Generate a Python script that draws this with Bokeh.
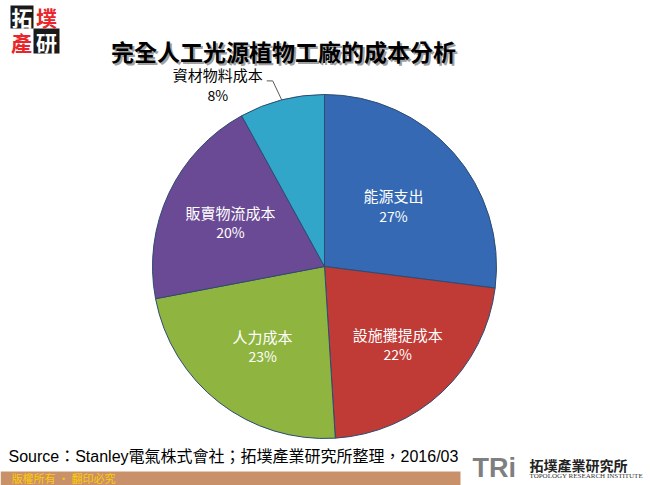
import numpy as np
from bokeh.plotting import figure
from bokeh.models import Range1d, ColumnDataSource
from bokeh.core.properties import value
from bokeh.embed import file_html
from bokeh.resources import INLINE

# ---- data ----
categories = ["能源支出", "設施攤提成本", "人力成本", "販賣物流成本", "資材物料成本"]
shares = [27, 22, 23, 20, 8]
pct_labels = ["27%", "22%", "23%", "20%", "8%"]
colors = ["#3569b3", "#c03a36", "#8fb540", "#6b4a95", "#31a6c8"]
title_text = "完全人工光源植物工廠的成本分析"
source_text = "Source：Stanley電氣株式會社；拓墣產業研究所整理，2016/03"
footer_text = "版權所有 • 翻印必究"

# label placement (layout, pixels from centre)
label_radius = [92, 107, 101, 104]

W, H = 650, 485
CJK = value("'Noto Sans CJK TC', 'Noto Sans', sans-serif")
ARIAL_CJK = value("'Liberation Sans', 'Noto Sans CJK TC', sans-serif")

p = figure(width=W, height=H, x_range=Range1d(0, W), y_range=Range1d(0, H),
           output_backend="svg", toolbar_location=None, min_border=0,
           background_fill_color="white", border_fill_color="white")
p.axis.visible = False
p.grid.visible = False
p.outline_line_color = None

def Y(ypx):
    return H - ypx

# ---- pie ----
cx, cy, R = 324, Y(266), 172
vals = np.array(shares, dtype=float)
frac = vals / vals.sum()
cum = np.concatenate([[0], np.cumsum(frac)])
start = np.pi / 2 - 2 * np.pi * cum[:-1]
end = np.pi / 2 - 2 * np.pi * cum[1:]
mid = (start + end) / 2

src = ColumnDataSource(dict(start=start, end=end, color=colors,
                            x=[cx] * len(shares), y=[cy] * len(shares)))
p.wedge(x="x", y="y", radius=R, start_angle="start", end_angle="end",
        direction="clock", fill_color="color", line_color="#2d4b72",
        line_width=1, source=src)

# inside labels
for i in range(4):
    lx = cx + label_radius[i] * np.cos(mid[i])
    ly = cy + label_radius[i] * np.sin(mid[i])
    p.text(x=[lx], y=[ly + 10], text=[categories[i]], text_color="white",
           text_font=CJK, text_font_size="15px", text_align="center",
           text_baseline="middle")
    p.text(x=[lx], y=[ly - 10], text=[pct_labels[i]], text_color="white",
           text_font=CJK, text_font_size="14px", text_align="center",
           text_baseline="middle")

# outside label with leader line for the small slice
ex = cx + R * np.cos(mid[4])
ey = cy + R * np.sin(mid[4])
kx, ky = ex - 9, ey + 19
p.line(x=[ex, kx, kx - 6], y=[ey, ky, ky], line_color="#595959", line_width=1)
tx, ty = kx - 55, ky + 6
p.text(x=[tx], y=[ty], text=[categories[4]], text_color="black",
       text_font=CJK, text_font_size="15px", text_align="center",
       text_baseline="middle")
p.text(x=[tx], y=[ty - 20], text=[pct_labels[4]], text_color="black",
       text_font=CJK, text_font_size="14px", text_align="center",
       text_baseline="middle")

# ---- title with shadow ----
p.text(x=[285], y=[Y(52)], text=[title_text], text_color="#a0a0a0",
       text_font=CJK, text_font_size="23px", text_font_style="bold",
       text_align="center", text_baseline="middle")
p.text(x=[283], y=[Y(50)], text=[title_text], text_color="black",
       text_font=CJK, text_font_size="23px", text_font_style="bold",
       text_align="center", text_baseline="middle")

# ---- top-left logo ----
p.quad(left=[10, 33], right=[33, 59], top=[Y(5), Y(28)], bottom=[Y(28), Y(53)],
       fill_color="#1a1a1a", line_color=None)
for ch, x0, y0, c in [("拓", 21.5, 16.5, "white"), ("墣", 46, 16, "#e8262b"),
                      ("產", 21, 41, "#e8262b"), ("研", 46, 41, "white")]:
    p.text(x=[x0], y=[Y(y0)], text=[ch], text_color=c, text_font=CJK,
           text_font_size="21px", text_font_style="bold", text_align="center",
           text_baseline="middle")

# ---- source ----
p.text(x=[8], y=[Y(456)], text=[source_text], text_color="black",
       text_font=ARIAL_CJK, text_font_size="16px", text_align="left",
       text_baseline="middle")

# ---- footer bar ----
p.quad(left=[0], right=[460], top=[Y(471)], bottom=[Y(485)],
       fill_color="#c9916a", line_color=None)
p.text(x=[11], y=[Y(477)], text=[footer_text], text_color="#ffcc00",
       text_font=CJK, text_font_size="11px", text_align="left",
       text_baseline="middle")

# ---- bottom-right logo ----
p.text(x=[472], y=[Y(467)], text=["TRi"], text_color="#7f7f7f",
       text_font=value("Liberation Sans"), text_font_size="27px",
       text_font_style="bold", text_align="left", text_baseline="middle")
p.text(x=[529], y=[Y(464)], text=["拓墣產業研究所"], text_color="#222222",
       text_font=CJK, text_font_size="14px", text_font_style="bold",
       text_align="left", text_baseline="middle")
p.text(x=[529], y=[Y(475)], text=["TOPOLOGY RESEARCH INSTITUTE"],
       text_color="#333333", text_font=value("Liberation Sans Narrow"),
       text_font_size="7px", text_align="left", text_baseline="middle")

open("out.html", "w").write(file_html(p, INLINE))
